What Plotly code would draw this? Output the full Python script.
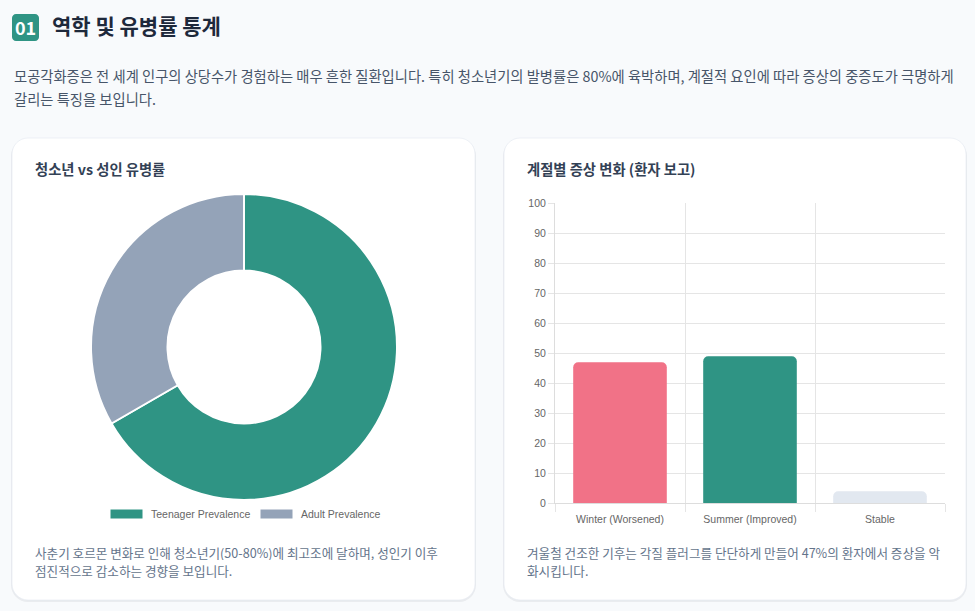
import plotly.graph_objects as go

W, H = 975, 611

# --- data ---
donut_labels = ["Teenager Prevalence", "Adult Prevalence"]
donut_values = [80, 40]
donut_colors = ["#2f9484", "#94a3b8"]

season_labels = ["Winter (Worsened)", "Summer (Improved)", "Stable"]
season_values = [47, 49, 4]
season_colors = ["#f17287", "#2f9484", "#e2e8f0"]
y_ticks = list(range(0, 101, 10))

KR = "Noto Sans CJK KR"
LAT = "Liberation Sans"


def px(x):
    return x / W


def py(y):
    return 1 - y / H


def rounded_rect(x0, y0, x1, y1, r):
    """Rounded rectangle path in paper coords, given pixel box."""
    k = 0.45 * r
    pts = [
        f"M{px(x0 + r)},{py(y0)}",
        f"L{px(x1 - r)},{py(y0)}",
        f"C{px(x1 - k)},{py(y0)} {px(x1)},{py(y0 + k)} {px(x1)},{py(y0 + r)}",
        f"L{px(x1)},{py(y1 - r)}",
        f"C{px(x1)},{py(y1 - k)} {px(x1 - k)},{py(y1)} {px(x1 - r)},{py(y1)}",
        f"L{px(x0 + r)},{py(y1)}",
        f"C{px(x0 + k)},{py(y1)} {px(x0)},{py(y1 - k)} {px(x0)},{py(y1 - r)}",
        f"L{px(x0)},{py(y0 + r)}",
        f"C{px(x0)},{py(y0 + k)} {px(x0 + k)},{py(y0)} {px(x0 + r)},{py(y0)}",
        "Z",
    ]
    return " ".join(pts)


def text(x, y, s, size, color, bold=False, font=KR, xanchor="left", height=None):
    a = dict(
        x=px(x), y=py(y), xref="paper", yref="paper", text=f"<b>{s}</b>" if bold else s,
        showarrow=False, xanchor=xanchor, yanchor="middle",
        font=dict(family=font, size=size, color=color),
    )
    if height:
        a["height"] = height
    return a


fig = go.Figure()

fig.add_trace(go.Pie(
    labels=donut_labels, values=donut_values, hole=0.5, sort=False,
    direction="clockwise", rotation=0,
    marker=dict(colors=donut_colors, line=dict(color="white", width=2)),
    textinfo="none", showlegend=False, automargin=False,
    domain=dict(x=[px(91), px(397)], y=[py(500), py(194)]),
))

fig.add_trace(go.Bar(
    x=season_labels, y=season_values, width=0.72,
    marker=dict(color=season_colors, cornerradius=5, line=dict(width=0)),
    showlegend=False,
))

shapes = []
# card shadows + cards
for x0, x1 in [(12, 475), (504, 966)]:
    shapes.append(dict(type="path", path=rounded_rect(x0 - 1, 139, x1 + 1, 602, 17), xref="paper", yref="paper",
                       fillcolor="rgba(15,23,42,0.06)", line=dict(width=0), layer="below"))
    shapes.append(dict(type="path", path=rounded_rect(x0, 138, x1, 600, 16), xref="paper", yref="paper",
                       fillcolor="white", line=dict(color="rgba(226,232,240,0.6)", width=1), layer="below"))
# badge
shapes.append(dict(type="path", path=rounded_rect(12, 14, 39, 41, 4), xref="paper", yref="paper",
                   fillcolor="#2f9484", line=dict(width=0), layer="below"))
# donut legend boxes
legend_x = [110, 260]
for lx, c in zip(legend_x, donut_colors):
    shapes.append(dict(type="rect", x0=px(lx), x1=px(lx + 33), y0=py(519), y1=py(509), xref="paper", yref="paper",
                       fillcolor=c, line=dict(color="white", width=1)))

annotations = [
    text(25.5, 27, "01", 18, "white", bold=True, xanchor="center"),
    text(50, 25, "역학 및 유병률 통계", 21, "#1e293b", bold=True),
    text(12, 75, "모공각화증은 전 세계 인구의 상당수가 경험하는 매우 흔한 질환입니다. 특히 청소년기의 발병률은 80%에 육박하며, 계절적 요인에 따라 증상의 중증도가 극명하게", 14.3, "#475569", height=20),
    text(12, 98, "갈리는 특징을 보입니다.", 14.3, "#475569", height=20),
    text(33, 168, "청소년 vs 성인 유병률", 14.3, "#334155", bold=True),
    text(525, 168, "계절별 증상 변화 (환자 보고)", 14.3, "#334155", bold=True),
    text(33, 552, "사춘기 호르몬 변화로 인해 청소년기(50-80%)에 최고조에 달하며, 성인기 이후", 12.6, "#64748b", height=16),
    text(33, 570, "점진적으로 감소하는 경향을 보입니다.", 12.6, "#64748b", height=16),
    text(525, 552, "겨울철 건조한 기후는 각질 플러그를 단단하게 만들어 47%의 환자에서 증상을 악", 12.6, "#64748b", height=16),
    text(525, 570, "화시킵니다.", 12.6, "#64748b", height=16),
]
for lx, lab in zip(legend_x, donut_labels):
    annotations.append(text(lx + 39, 514, lab, 10.5, "#666666", font=LAT))

fig.update_layout(
    width=W, height=H, autosize=False,
    margin=dict(l=0, r=0, t=0, b=0, pad=0, autoexpand=False),
    paper_bgcolor="#f8fafc", plot_bgcolor="rgba(0,0,0,0)",
    shapes=shapes, annotations=annotations,
    xaxis=dict(
        domain=[px(555), px(945)], type="category", tickson="boundaries",
        showgrid=True, gridcolor="#e5e5e5", gridwidth=1,
        ticks="outside", ticklen=8, tickcolor="#e5e5e5",
        showline=True, linecolor="#dddddd", mirror=False,
        tickfont=dict(family=LAT, size=10.5, color="#666666"),
        ticklabelstandoff=6,
        fixedrange=True, automargin=False,
    ),
    yaxis=dict(
        domain=[py(503.3), py(203.3)], range=[0, 100], tickvals=y_ticks,
        showgrid=True, gridcolor="#e5e5e5", gridwidth=1, zeroline=False,
        ticks="outside", ticklen=6, tickcolor="#e5e5e5",
        showline=True, linecolor="#dddddd",
        tickfont=dict(family=LAT, size=10.5, color="#666666"),
        fixedrange=True, automargin=False,
    ),
    bargap=0.28,
)

# pin the figure to the window's top-left corner (no body margin, no scroll)
pin = (
    "document.documentElement.style.margin='0';"
    "document.body.style.margin='0';"
    "document.body.style.overflow='hidden';"
    "document.body.style.background='#f8fafc';"
    "var d=document.getElementsByClassName('plotly-graph-div')[0];"
    "d.style.position='fixed';d.style.left='0px';d.style.top='0px';"
)
fig.write_html("out.html", config={"displayModeBar": False}, post_script=pin)
